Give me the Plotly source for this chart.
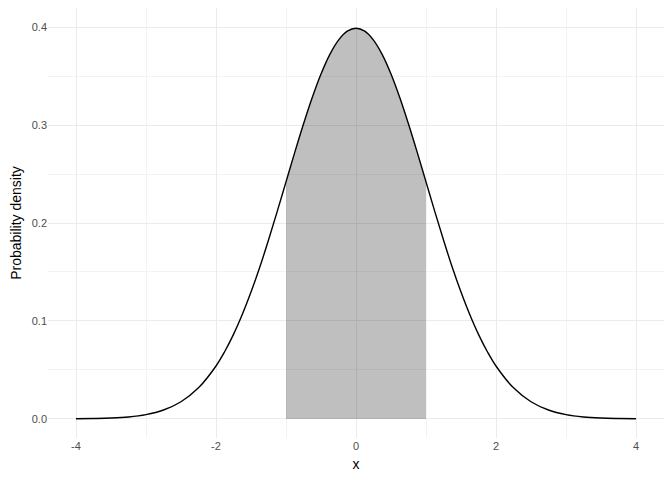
import plotly.graph_objects as go

# Density curve values
x_vals = [-4.0, -3.75, -3.5, -3.25, -3.0, -2.75, -2.5, -2.25,
          -2.0, -1.875, -1.75, -1.625, -1.5, -1.375, -1.25, -1.125,
          -1.0, -0.875, -0.75, -0.625, -0.5, -0.375, -0.25, -0.125,
          0.0, 0.125, 0.25, 0.375, 0.5, 0.625, 0.75, 0.875,
          1.0, 1.125, 1.25, 1.375, 1.5, 1.625, 1.75, 1.875,
          2.0, 2.25, 2.5, 2.75, 3.0, 3.25, 3.5, 3.75, 4.0]
density = [0.0001, 0.0004, 0.0009, 0.002, 0.0044, 0.0091, 0.0175, 0.0317,
           0.054, 0.0688, 0.0863, 0.1066, 0.1295, 0.1548, 0.1826, 0.2119,
           0.242, 0.2721, 0.3011, 0.3281, 0.3521, 0.3719, 0.3867, 0.3958,
           0.3989, 0.3958, 0.3867, 0.3719, 0.3521, 0.3281, 0.3011, 0.2721,
           0.242, 0.2119, 0.1826, 0.1548, 0.1295, 0.1066, 0.0863, 0.0688,
           0.054, 0.0317, 0.0175, 0.0091, 0.0044, 0.002, 0.0009, 0.0004, 0.0001]
shade_from = -1.0
shade_to = 1.0

x_tickvals = [-4, -2, 0, 2, 4]
x_ticktext = ["-4", "-2", "0", "2", "4"]
y_tickvals = [0.0, 0.1, 0.2, 0.3, 0.4]
y_ticktext = ["0.0", "0.1", "0.2", "0.3", "0.4"]

sx = [x for x in x_vals if shade_from <= x <= shade_to]
sy = [y for x, y in zip(x_vals, density) if shade_from <= x <= shade_to]

fig = go.Figure()
fig.add_trace(go.Scatter(x=sx, y=sy, mode="lines", fill="tozeroy",
                         fillcolor="rgba(0,0,0,0.25)",
                         line=dict(width=0, shape="spline", color="rgba(0,0,0,0)"),
                         hoverinfo="skip", showlegend=False))
fig.add_trace(go.Scatter(x=x_vals, y=density, mode="lines",
                         line=dict(color="black", width=1.4, shape="spline"),
                         showlegend=False))

fig.update_layout(
    width=672, height=480,
    margin=dict(l=40, r=16, t=0, b=50),
    paper_bgcolor="white", plot_bgcolor="white",
    font=dict(family="Liberation Sans, Arial, sans-serif"),
)
fig.update_xaxes(
    range=[-4.4, 4.4], tickvals=x_tickvals, ticktext=x_ticktext,
    showgrid=True, gridcolor="#ebebeb", gridwidth=1.1, zeroline=False,
    minor=dict(tickvals=[-3, -1, 1, 3], showgrid=True, gridcolor="#f3f3f3", gridwidth=0.7),
    tickfont=dict(size=11, color="#4d4d4d"), ticks="",
    title=dict(text="x", font=dict(size=14, color="black"), standoff=8),
    showline=False, automargin=False,
)
fig.update_yaxes(
    range=[-0.0195, 0.4195], tickvals=y_tickvals, ticktext=y_ticktext,
    showgrid=True, gridcolor="#ebebeb", gridwidth=1.1, zeroline=False,
    minor=dict(tickvals=[0.05, 0.15, 0.25, 0.35], showgrid=True, gridcolor="#f3f3f3", gridwidth=0.7),
    tickfont=dict(size=11, color="#4d4d4d"), ticks="",
    title=dict(text="Probability density", font=dict(size=14, color="black"), standoff=8),
    showline=False, automargin=False,
)

fig.write_html("out.html")
